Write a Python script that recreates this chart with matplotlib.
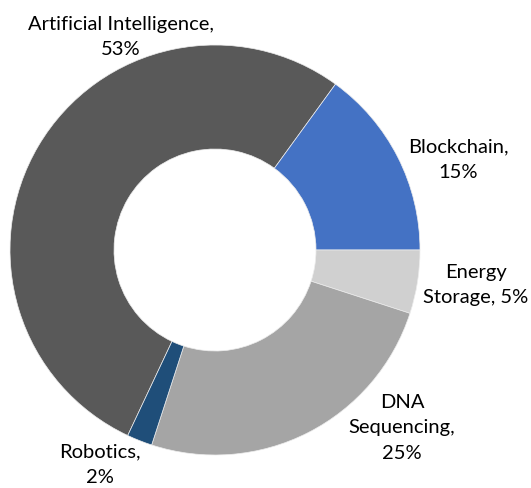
import matplotlib.pyplot as plt

# Data
labels = ['Artificial Intelligence', 'Blockchain', 'Energy Storage', 'DNA Sequencing', 'Robotics']
shares = [53, 15, 5, 25, 2]
colors = ['#595959', '#4472C4', '#D0D0D0', '#A5A5A5', '#1F4E79']

# label text blocks (as in the reference) and their centres in pixels (from top-left)
label_texts = ['Artificial Intelligence,\n53%', 'Blockchain,\n15%', 'Energy\nStorage, 5%',
               'DNA\nSequencing,\n25%', 'Robotics,\n2%']
label_pos = [(121, 37), (458, 160), (476, 285), (402, 428), (100, 465)]

W, H = 531, 488
fig = plt.figure(figsize=(W / 100, H / 100), dpi=100)
ax = fig.add_axes([0, 0, 1, 1])
ax.set_xlim(0, W)
ax.set_ylim(0, H)
ax.axis('off')

# AI slice starts at ~205 degrees clockwise from 12 o'clock
start = 90 - 205.2
ax.pie(shares, colors=colors, startangle=start, counterclock=False,
       center=(215, H - 250), radius=205,
       wedgeprops=dict(width=104, edgecolor='#EDEDED', linewidth=0.5))
ax.set_xlim(0, W)
ax.set_ylim(0, H)

for txt, (x, y) in zip(label_texts, label_pos):
    ax.text(x, H - y, txt, ha='center', va='center', fontsize=14.5,
            family=['Lato', 'DejaVu Sans'], color='#000000', linespacing=1.6)

fig.savefig('out.png', dpi=100)
